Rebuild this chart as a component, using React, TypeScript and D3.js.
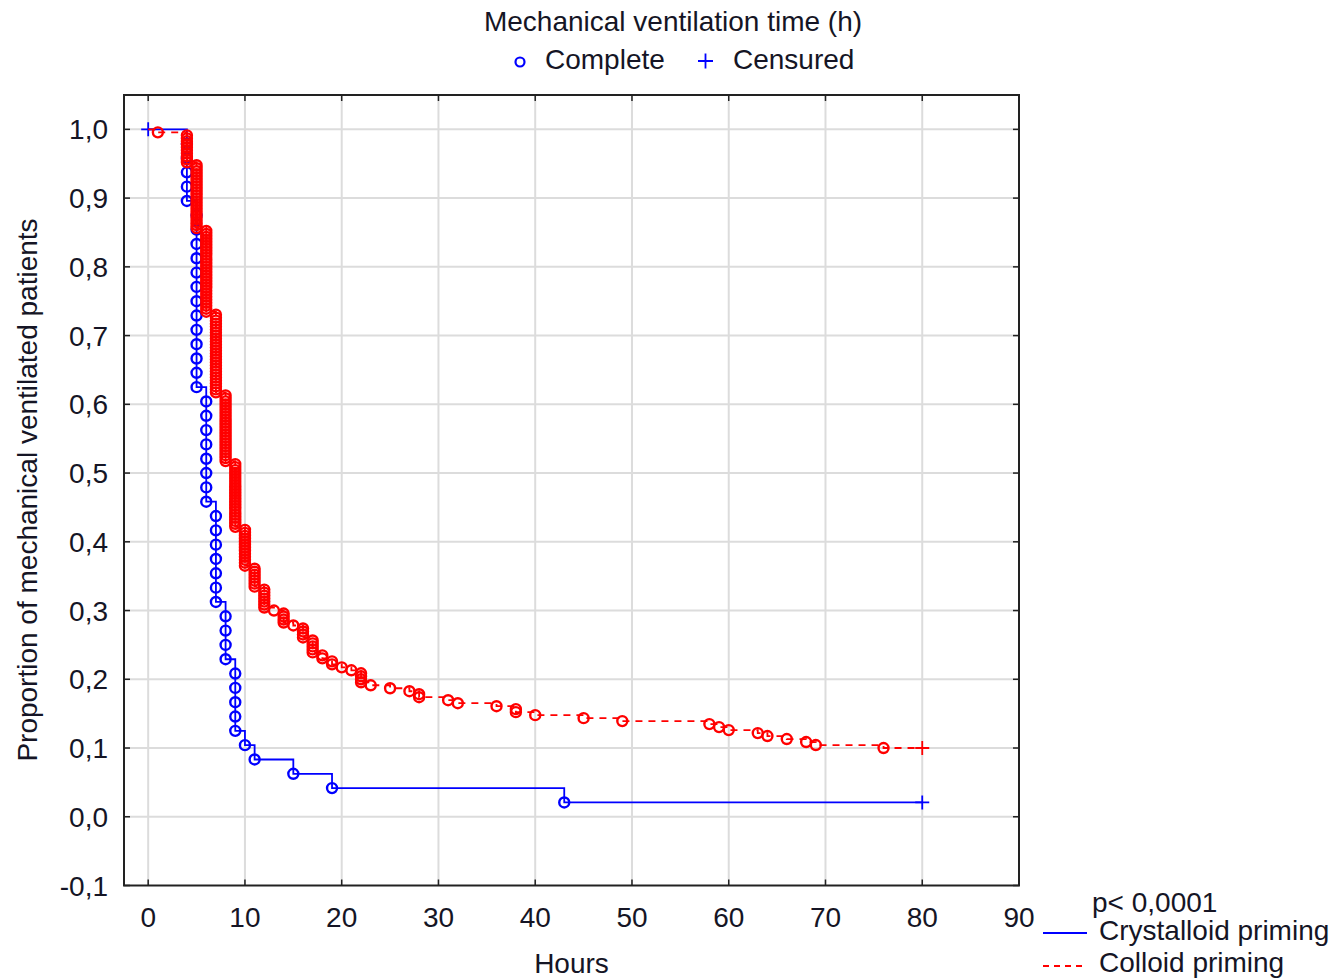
import React, { useRef, useEffect } from 'react';
import * as d3 from 'd3';

// crystalloid priming: event times (h) and number of completed ventilations at each
const crystTimes = [4, 5, 6, 7, 8, 9, 10, 11, 15, 19, 43];
const crystEvents = [5, 13, 8, 7, 4, 5, 1, 1, 1, 1, 1];
const crystCensTimes = [0, 80];
const crystCensCounts = [1, 1];

// colloid priming
const colloidTimes = [1, 4, 5, 6, 7, 8, 9, 10, 11, 12, 13, 14, 15, 16, 17, 18, 19, 20, 21, 22, 23, 25, 27, 28, 31, 32, 36, 38, 40, 45, 49, 58, 59, 60, 63, 64, 66, 68, 69, 76];
const colloidEvents = [1, 10, 22, 28, 27, 23, 22, 13, 7, 7, 1, 4, 1, 4, 5, 2, 2, 1, 1, 4, 1, 1, 1, 2, 1, 1, 1, 2, 1, 1, 1, 1, 1, 1, 1, 1, 1, 1, 1, 1];
const colloidCensTimes = [80];
const colloidCensCounts = [23];

const xTicks = [0, 10, 20, 30, 40, 50, 60, 70, 80, 90];
const yTicks = [-0.1, 0, 0.1, 0.2, 0.3, 0.4, 0.5, 0.6, 0.7, 0.8, 0.9, 1.0];

type Pt = { t: number; s: number };

// Kaplan-Meier estimate from event / censoring counts
function km(evT: number[], evD: number[], cT: number[], cD: number[]) {
  const total = d3.sum(evD) + d3.sum(cD);
  const times = Array.from(new Set([...evT, ...cT])).sort((a, b) => a - b);
  let n = total, S = 1;
  const steps: Pt[] = [{ t: 0, s: 1 }];
  const circles: Pt[] = [];
  const pluses: Pt[] = [];
  times.forEach((t) => {
    const i = evT.indexOf(t);
    const d = i >= 0 ? evD[i] : 0;
    if (d > 0) {
      for (let j = 1; j <= d; j++) circles.push({ t, s: S * (1 - j / n) });
      S = S * (1 - d / n);
      steps.push({ t, s: S });
      n -= d;
    }
    const k = cT.indexOf(t);
    if (k >= 0) {
      pluses.push({ t, s: S });
      n -= cD[k];
    }
  });
  steps.push({ t: d3.max(times) as number, s: S });
  return { steps, circles, pluses };
}

const App = () => {
  const ref = useRef<SVGSVGElement>(null);

  useEffect(() => {
    const svg = d3.select(ref.current);
    svg.selectAll('*').remove();

    const font = '"Liberation Sans", Arial, sans-serif';
    const textCol = '#151525';
    const left = 124, right = 1019, top = 95, bottom = 885.5;

    const x = d3.scaleLinear().domain([-2.5, 90]).range([left, right]);
    const y = d3.scaleLinear().domain([-0.1, 1.05]).range([bottom, top]);
    const fmt = (v: number) => d3.format('.1f')(v).replace('.', ',').replace('\u2212', '-');

    svg.append('rect').attr('width', 1333).attr('height', 980).attr('fill', '#fff');

    // grid
    const grid = svg.append('g').attr('stroke', '#dcdcdc').attr('stroke-width', 2);
    xTicks.filter((t) => t < 90).forEach((t) => {
      grid.append('line').attr('x1', x(t)).attr('x2', x(t)).attr('y1', top).attr('y2', bottom);
    });
    yTicks.filter((t) => t > -0.1).forEach((t) => {
      grid.append('line').attr('x1', left).attr('x2', right).attr('y1', y(t)).attr('y2', y(t));
    });

    const line = d3.line<Pt>().x((d) => x(d.t)).y((d) => y(d.s)).curve(d3.curveStepAfter);

    const drawGroup = (res: ReturnType<typeof km>, color: string, dash: string | null) => {
      const g = svg.append('g');
      g.append('path')
        .attr('d', line(res.steps))
        .attr('fill', 'none')
        .attr('stroke', color)
        .attr('stroke-width', 1.8)
        .attr('stroke-dasharray', dash);
      g.selectAll('circle')
        .data(res.circles)
        .enter()
        .append('circle')
        .attr('cx', (d) => x(d.t))
        .attr('cy', (d) => y(d.s))
        .attr('r', 5)
        .attr('fill', 'none')
        .attr('stroke', color)
        .attr('stroke-width', 2.4);
      res.pluses.forEach((p) => {
        const px = x(p.t), py = y(p.s);
        g.append('path')
          .attr('d', `M${px - 7},${py}H${px + 7}M${px},${py - 7}V${py + 7}`)
          .attr('stroke', color)
          .attr('stroke-width', 1.8);
      });
    };

    drawGroup(km(crystTimes, crystEvents, crystCensTimes, crystCensCounts), '#0000ff', null);
    drawGroup(km(colloidTimes, colloidEvents, colloidCensTimes, colloidCensCounts), '#ff0000', '7,6');

    // frame and inward ticks
    svg.append('rect')
      .attr('x', left).attr('y', top)
      .attr('width', right - left).attr('height', bottom - top)
      .attr('fill', 'none').attr('stroke', '#222').attr('stroke-width', 2);
    const tk = svg.append('g').attr('stroke', '#222').attr('stroke-width', 1.5);
    xTicks.forEach((t) => {
      tk.append('line').attr('x1', x(t)).attr('x2', x(t)).attr('y1', bottom).attr('y2', bottom - 6);
      tk.append('line').attr('x1', x(t)).attr('x2', x(t)).attr('y1', top).attr('y2', top + 6);
    });
    yTicks.forEach((t) => {
      tk.append('line').attr('x1', left).attr('x2', left + 6).attr('y1', y(t)).attr('y2', y(t));
      tk.append('line').attr('x1', right).attr('x2', right - 6).attr('y1', y(t)).attr('y2', y(t));
    });

    const txt = (s: string, tx: number, ty: number, anchor = 'start', size = 28) =>
      svg.append('text')
        .attr('x', tx).attr('y', ty)
        .attr('text-anchor', anchor)
        .attr('font-family', font)
        .attr('font-size', size)
        .attr('fill', textCol)
        .text(s);

    xTicks.forEach((t) => txt(String(t), x(t), 927, 'middle'));
    yTicks.forEach((t) => txt(fmt(t), 108, y(t) + 10, 'end'));

    txt('Hours', (left + right) / 2, 973, 'middle');
    svg.append('text')
      .attr('transform', 'translate(37,490) rotate(-90)')
      .attr('text-anchor', 'middle')
      .attr('font-family', font)
      .attr('font-size', 28)
      .attr('fill', textCol)
      .text('Proportion of mechanical ventilated patients');

    // top title + marker legend
    txt('Mechanical ventilation time (h)', 673, 31, 'middle');
    svg.append('circle').attr('cx', 520).attr('cy', 62).attr('r', 4.5)
      .attr('fill', 'none').attr('stroke', '#0000ff').attr('stroke-width', 2.2);
    txt('Complete', 545, 69);
    svg.append('path').attr('d', 'M698,61H713M705.5,53.5V68.5').attr('stroke', '#0000ff').attr('stroke-width', 1.8);
    txt('Censured', 733, 69);

    // group legend
    txt('p< 0,0001', 1092, 912);
    svg.append('line').attr('x1', 1043).attr('x2', 1087).attr('y1', 933).attr('y2', 933)
      .attr('stroke', '#0000ff').attr('stroke-width', 1.8);
    txt('Crystalloid priming', 1099, 940);
    svg.append('line').attr('x1', 1043).attr('x2', 1087).attr('y1', 966).attr('y2', 966)
      .attr('stroke', '#ff0000').attr('stroke-width', 1.8).attr('stroke-dasharray', '6,5');
    txt('Colloid priming', 1099, 972);
  }, []);

  return (
    <svg
      ref={ref}
      width={1333}
      height={980}
      style={{ position: 'absolute', left: 0, top: 0, display: 'block' }}
    />
  );
};

export default App;
